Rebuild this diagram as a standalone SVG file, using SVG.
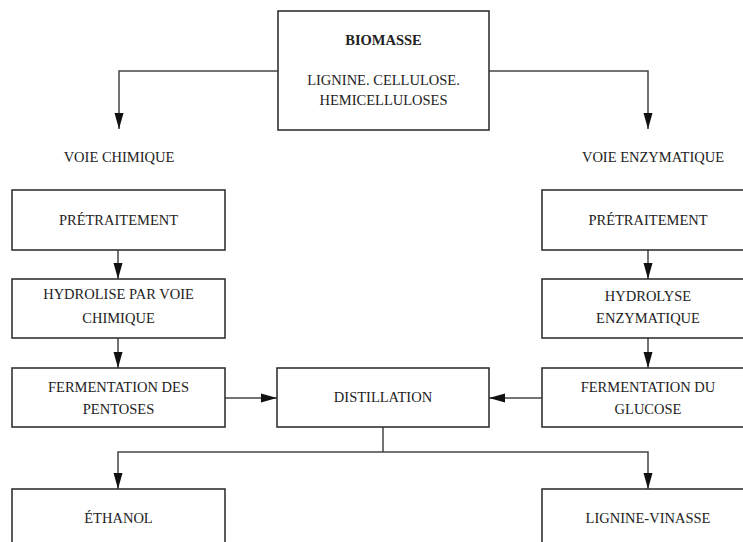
<svg xmlns="http://www.w3.org/2000/svg" width="743" height="542" viewBox="0 0 743 542">
<style>
.box{fill:#fff;stroke:#333;stroke-width:1.6}
.t{font-family:"Liberation Serif","Times New Roman",serif;font-size:14.5px;fill:#222;text-anchor:middle}
.b{font-weight:bold}
.c{fill:none;stroke:#444;stroke-width:1.5}
</style>
<defs>
<marker id="av" viewBox="0 0 16 10" refX="16" refY="5" markerWidth="16" markerHeight="10" markerUnits="userSpaceOnUse" orient="auto">
<path d="M0,0.5 L16,5 L0,9.5 Z" fill="#111"/>
</marker>
</defs>
<rect width="743" height="542" fill="#fff"/>
<g id="connectors">
<path class="c" d="M278,71 H119 V129" marker-end="url(#av)"/>
<path class="c" d="M489,71 H648 V129" marker-end="url(#av)"/>
<path class="c" d="M118,250 V279" marker-end="url(#av)"/>
<path class="c" d="M118,338 V368" marker-end="url(#av)"/>
<path class="c" d="M648,250 V279" marker-end="url(#av)"/>
<path class="c" d="M648,338 V368" marker-end="url(#av)"/>
<path class="c" d="M225,398 H277" marker-end="url(#av)"/>
<path class="c" d="M542,398 H489" marker-end="url(#av)"/>
<path class="c" d="M383,427 V452"/>
<path class="c" d="M383,452 H118 V489" marker-end="url(#av)"/>
<path class="c" d="M383,452 H648 V489" marker-end="url(#av)"/>
</g>
<g id="biomasse">
<rect class="box" x="278" y="11" width="211" height="119"/>
<text class="t b" x="383.5" y="45">BIOMASSE</text>
<text class="t" x="383.5" y="85">LIGNINE. CELLULOSE.</text>
<text class="t" x="383.5" y="105">HEMICELLULOSES</text>
</g>
<g id="voie-chimique">
<text class="t" x="119" y="162">VOIE CHIMIQUE</text>
</g>
<g id="voie-enzymatique">
<text class="t" x="653" y="162">VOIE ENZYMATIQUE</text>
</g>
<g id="pretraitement-chimique">
<rect class="box" x="12" y="190" width="213" height="60"/>
<text class="t" x="118.5" y="225">PRÉTRAITEMENT</text>
</g>
<g id="hydrolise-chimique">
<rect class="box" x="12" y="279" width="213" height="59"/>
<text class="t" x="118.5" y="299">HYDROLISE PAR VOIE</text>
<text class="t" x="118.5" y="323">CHIMIQUE</text>
</g>
<g id="fermentation-pentoses">
<rect class="box" x="12" y="368" width="213" height="59"/>
<text class="t" x="118.5" y="392">FERMENTATION DES</text>
<text class="t" x="118.5" y="414">PENTOSES</text>
</g>
<g id="pretraitement-enzymatique">
<rect class="box" x="542" y="190" width="213" height="60"/>
<text class="t" x="648" y="225">PRÉTRAITEMENT</text>
</g>
<g id="hydrolyse-enzymatique">
<rect class="box" x="542" y="279" width="213" height="59"/>
<text class="t" x="648" y="301">HYDROLYSE</text>
<text class="t" x="648" y="323">ENZYMATIQUE</text>
</g>
<g id="fermentation-glucose">
<rect class="box" x="542" y="368" width="213" height="59"/>
<text class="t" x="648" y="392">FERMENTATION DU</text>
<text class="t" x="648" y="414">GLUCOSE</text>
</g>
<g id="distillation">
<rect class="box" x="277" y="368" width="212" height="59"/>
<text class="t" x="383" y="402">DISTILLATION</text>
</g>
<g id="ethanol">
<rect class="box" x="12" y="489" width="213" height="70"/>
<text class="t" x="118.5" y="523">ÉTHANOL</text>
</g>
<g id="lignine-vinasse">
<rect class="box" x="542" y="489" width="213" height="70"/>
<text class="t" x="648" y="523">LIGNINE-VINASSE</text>
</g>
</svg>
